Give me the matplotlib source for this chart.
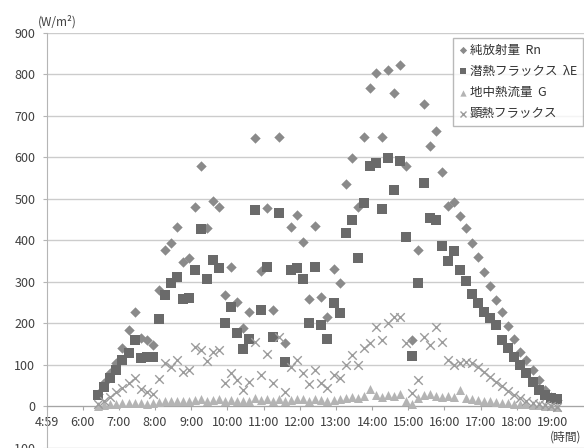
import numpy as np
import matplotlib
matplotlib.use("Agg")
import matplotlib.pyplot as plt

plt.rcParams['font.family'] = ['Noto Sans CJK JP', 'DejaVu Sans']

# 10-minute readings starting 6:25
start_hour = 6 + 25 / 60
step_hour = 10 / 60

# net radiation Rn (W/m2)
net_radiation = [30, 55, 80, 105, 140, 183, 227, 165, 159, 147,
                 280, 376, 393, 432, 347, 357, 480, 579, 430, 495,
                 480, 268, 336, 251, 188, 226, 647, 326, 479, 231,
                 649, 151, 433, 461, 395, 258, 435, 264, 214, 330,
                 296, 536, 598, 481, 648, 767, 803, 648, 811, 756,
                 823, 579, 159, 376, 729, 627, 663, 564, 483, 493,
                 459, 429, 394, 360, 324, 290, 256, 228, 193, 161,
                 131, 111, 88, 63, 39, 22, 14]

# latent heat flux lambda-E
latent_heat = [26, 45, 67, 87, 110, 128, 159, 115, 119, 119,
               209, 268, 296, 312, 258, 261, 328, 427, 306, 352,
               332, 200, 240, 177, 138, 162, 473, 232, 336, 167,
               466, 107, 328, 332, 306, 200, 336, 195, 161, 249,
               224, 418, 450, 356, 491, 579, 587, 475, 598, 521,
               592, 407, 121, 298, 539, 453, 450, 385, 351, 373,
               328, 302, 270, 248, 228, 212, 195, 159, 139, 119,
               99, 79, 59, 39, 27, 19, 16]

# ground heat flux G
ground_heat = [0, 2, 4, 5, 7, 8, 8, 7, 6, 8,
               10, 11, 12, 12, 11, 13, 15, 16, 13, 15,
               16, 12, 14, 12, 11, 13, 19, 14, 17, 13,
               18, 11, 15, 17, 16, 13, 16, 14, 12, 15,
               16, 19, 21, 20, 25, 42, 26, 23, 27, 25,
               28, 12, 4, 19, 26, 29, 25, 23, 25, 21,
               38, 20, 17, 15, 13, 11, 9, 8, 7, 6,
               5, 4, 3, 2, 1, 0, -2]

# sensible heat flux H
sensible_heat = [5, 12, 22, 35, 43, 55, 67, 40, 35, 30,
                 65, 103, 95, 111, 83, 87, 143, 135, 109, 131,
                 135, 55, 80, 63, 39, 59, 155, 75, 125, 55,
                 167, 35, 95, 111, 79, 53, 87, 55, 43, 75,
                 67, 99, 123, 99, 139, 151, 191, 159, 200, 215,
                 214, 151, 31, 63, 167, 147, 191, 155, 111, 99,
                 103, 107, 103, 95, 83, 71, 59, 48, 37, 27,
                 19, 13, 8, 5, 2, 0, -2]

series_labels = ['純放射量  Rn', '潜熱フラックス  λE', '地中熱流量  G', '顕熱フラックス']
hour_labels = ['4:59', '6:00', '7:00', '8:00', '9:00', '10:00', '11:00', '12:00',
               '13:00', '14:00', '15:00', '16:00', '17:00', '18:00', '19:00']
y_ticks = [-100, 0, 100, 200, 300, 400, 500, 600, 700, 800, 900]

times = start_hour + step_hour * np.arange(len(net_radiation))
x_min = 4 + 59 / 60

fig = plt.figure(figsize=(5.84, 4.48), dpi=100)
ax = fig.add_axes([46.5 / 584, 0.5 / 448, 537.5 / 584, 414.5 / 448])

ax.scatter(times, net_radiation, marker='D', s=28, color='#8a8a8a', lw=0, zorder=3, label=series_labels[0])
ax.scatter(times, latent_heat, marker='s', s=42, color='#6a6a6a', lw=0, zorder=4, label=series_labels[1])
ax.scatter(times, ground_heat, marker='^', s=42, color='#b4b4b4', lw=0, zorder=5, label=series_labels[2])
ax.scatter(times, sensible_heat, marker='x', s=38, color='#9c9c9c', linewidths=1.0, zorder=6, label=series_labels[3])

ax.set_xlim(x_min, x_min + 537.5 / 36.18)
ax.set_ylim(-100, 900)
ax.set_xticks([x_min + k for k in range(len(hour_labels))])
ax.set_xticklabels(hour_labels)
ax.set_yticks(y_ticks)

ax.grid(axis='y', color='#cccccc', lw=1.0, zorder=0)
ax.set_axisbelow(True)
for side in ['top', 'right']:
    ax.spines[side].set_visible(False)
ax.spines['left'].set_color('#b5b5b5')
ax.spines['bottom'].set_position(('data', 0))
ax.spines['bottom'].set_color('#a5a5a5')
ax.tick_params(axis='x', length=3, width=0.8, color='#a5a5a5', pad=4, labelsize=9, labelcolor='#404040')
ax.tick_params(axis='y', length=3, width=0.8, color='#b5b5b5', pad=5, labelsize=9, labelcolor='#404040')

leg = ax.legend(loc='upper right', bbox_to_anchor=(0.998, 0.988), borderaxespad=0,
                fontsize=9, frameon=True, fancybox=False, markerscale=0.7,
                handlelength=0.7, handletextpad=0.25, labelspacing=0.65,
                borderpad=0.45, scatterpoints=1)
leg.get_frame().set_edgecolor('#a8a8a8')
leg.get_frame().set_linewidth(1.0)
for t in leg.get_texts():
    t.set_color('#333333')

fig.text(38 / 584, 1 - 22 / 448, '(W/m²)', fontsize=8.5, color='#404040', ha='left', va='center')
fig.text(550 / 584, 1 - 437 / 448, '(時間)', fontsize=8.5, color='#404040', ha='left', va='center')

fig.savefig('out.png', dpi=100, facecolor='white')
